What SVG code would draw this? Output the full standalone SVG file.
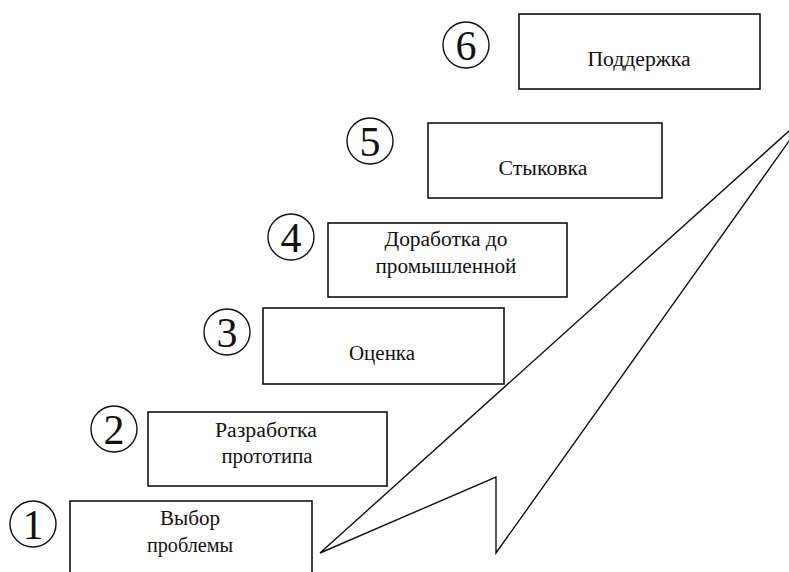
<svg xmlns="http://www.w3.org/2000/svg" width="789" height="572" viewBox="0 0 789 572">
<style>
.box{fill:#fff;stroke:#111;stroke-width:1.6}
.circ{fill:none;stroke:#111;stroke-width:1.4}
.arr{fill:none;stroke:#111;stroke-width:1.4;stroke-linejoin:miter}
</style>
<rect width="789" height="572" fill="#fff"/>
<g id="connectors">
<polygon class="arr" points="320,553 496,477 496,553 809,113"/>
</g>
<g font-family="Liberation Serif, DejaVu Serif, serif" fill="#111" text-anchor="middle">
<g id="step1">
<rect class="box" x="70" y="501" width="242" height="80"/>
<circle class="circ" cx="33" cy="524" r="23"/>
<text font-size="42" x="33" y="539">1</text>
<text font-size="20" x="190" y="525" textLength="60" lengthAdjust="spacingAndGlyphs">Выбор</text>
<text font-size="20" x="190" y="552" textLength="86" lengthAdjust="spacingAndGlyphs">проблемы</text>
</g>
<g id="step2">
<rect class="box" x="148" y="412" width="239" height="74"/>
<circle class="circ" cx="114" cy="429" r="23"/>
<text font-size="42" x="114" y="444">2</text>
<text font-size="20" x="266" y="437" textLength="102" lengthAdjust="spacingAndGlyphs">Разработка</text>
<text font-size="20" x="267" y="463" textLength="91" lengthAdjust="spacingAndGlyphs">прототипа</text>
</g>
<g id="step3">
<rect class="box" x="263" y="308" width="241" height="76"/>
<circle class="circ" cx="227" cy="332" r="23"/>
<text font-size="42" x="227" y="347">3</text>
<text font-size="20" x="382" y="360" textLength="66" lengthAdjust="spacingAndGlyphs">Оценка</text>
</g>
<g id="step4">
<rect class="box" x="328" y="223" width="239" height="74"/>
<circle class="circ" cx="291" cy="237" r="23"/>
<text font-size="42" x="291" y="252">4</text>
<text font-size="20" x="446" y="246" textLength="123" lengthAdjust="spacingAndGlyphs">Доработка до</text>
<text font-size="20" x="446" y="273" textLength="141" lengthAdjust="spacingAndGlyphs">промышленной</text>
</g>
<g id="step5">
<rect class="box" x="428" y="123" width="234" height="75"/>
<circle class="circ" cx="370" cy="141" r="23"/>
<text font-size="42" x="370" y="156">5</text>
<text font-size="20" x="543" y="175" textLength="89" lengthAdjust="spacingAndGlyphs">Стыковка</text>
</g>
<g id="step6">
<rect class="box" x="519" y="14" width="241" height="75"/>
<circle class="circ" cx="466" cy="45" r="23"/>
<text font-size="42" x="466" y="60">6</text>
<text font-size="20" x="639" y="66" textLength="103" lengthAdjust="spacingAndGlyphs">Поддержка</text>
</g>
</g>
</svg>
